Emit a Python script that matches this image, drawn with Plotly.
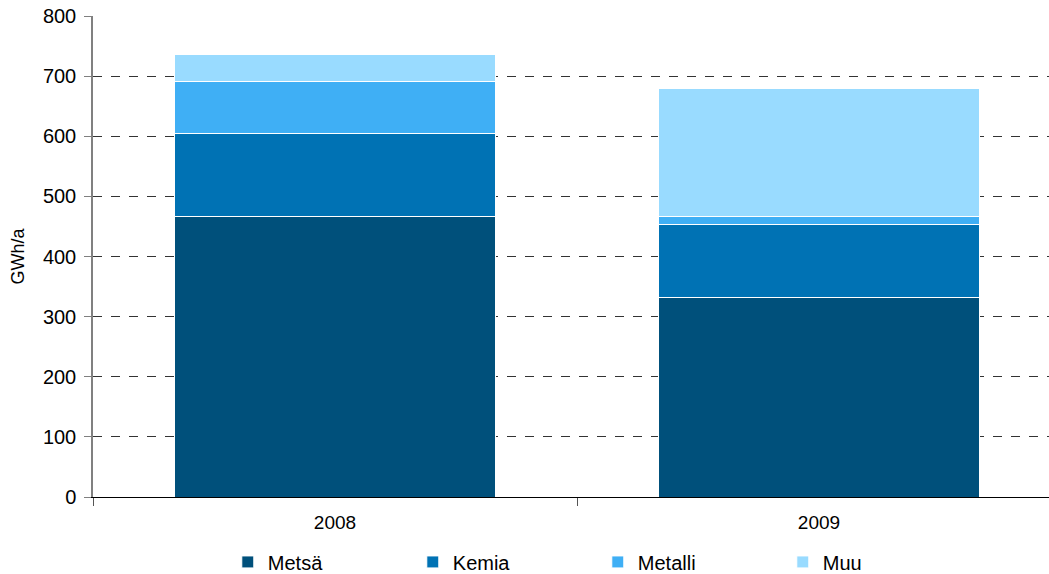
import plotly.graph_objects as go

years = ["2008", "2009"]
series = ["Metsä", "Kemia", "Metalli", "Muu"]
values = {
    "Metsä": [466, 331],
    "Kemia": [138, 123],
    "Metalli": [87, 13],
    "Muu": [45, 212],
}
colors = ["#00507B", "#0072B4", "#3FAFF5", "#99DBFF"]
y_ticks = [0, 100, 200, 300, 400, 500, 600, 700, 800]

fig = go.Figure()
for name, col in zip(series, colors):
    fig.add_trace(go.Bar(
        x=years, y=values[name], name=name,
        marker=dict(color=col, line=dict(color="white", width=1)),
        width=0.663,
    ))

W, H = 1049, 574
L, R, T, B = 93, 0, 16, 77
plot_w = W - L - R
cat_px = 484
fig.update_layout(
    width=W, height=H,
    barmode="stack",
    margin=dict(l=L, r=R, t=T, b=B, autoexpand=False),
    paper_bgcolor="white", plot_bgcolor="white",
    font=dict(family="Liberation Sans, Arial", size=19, color="#000000"),
    showlegend=True,
    legend=dict(
        orientation="h", x=0.141, xanchor="left", y=-0.135, yanchor="middle",
        entrywidth=140, entrywidthmode="pixels",
        font=dict(size=20), itemwidth=30,
        traceorder="normal",
    ),
    xaxis=dict(
        type="category",
        range=[-0.5, -0.5 + plot_w / cat_px],
        showline=True, linecolor="#000000", linewidth=1,
        ticks="outside", tickson="boundaries", ticklen=8, tickcolor="#555555",
        showgrid=False,
        tickfont=dict(size=19),
        ticklabelstandoff=8,
    ),
    yaxis=dict(
        range=[0, 800], tickvals=y_ticks,
        showline=True, linecolor="#808080", linewidth=1.5,
        ticks="outside", ticklen=7, tickcolor="#808080",
        showgrid=True, gridcolor="#333333", griddash="dash", gridwidth=1,
        zeroline=False,
        title=dict(text="GWh/a", font=dict(size=18), standoff=14),
        tickfont=dict(size=20),
        ticklabelstandoff=4,
    ),
)

fig.write_html("out.html")
